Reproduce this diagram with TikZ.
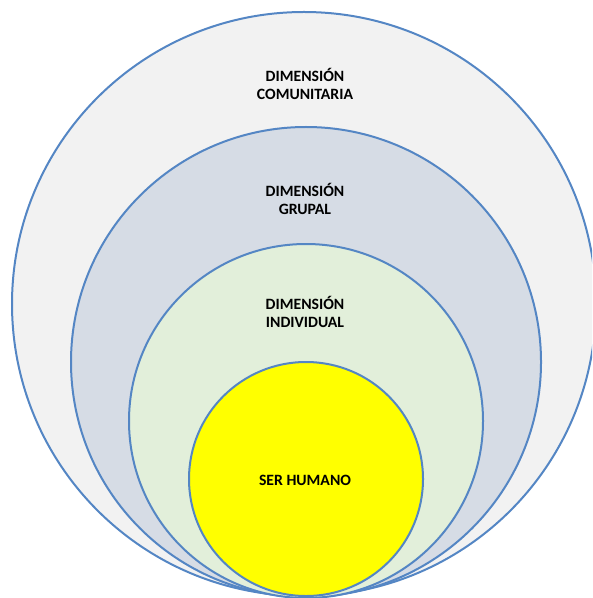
\documentclass[tikz,border=0pt]{standalone}
\usepackage{fontspec}
\setmainfont{Carlito}
\definecolor{ringline}{RGB}{84,134,196}
\definecolor{ringgray}{RGB}{242,242,242}
\definecolor{ringblue}{RGB}{214,220,229}
\definecolor{ringgreen}{RGB}{226,239,218}
\definecolor{ringyellow}{RGB}{255,255,0}
\begin{document}
\begin{tikzpicture}[x=0.75pt, y=-0.75pt,
        ring/.style={circle, draw=ringline, line width=1.5pt, inner sep=0pt},
        label/.style={align=center, font=\fontsize{11.8}{13.5}\selectfont\bfseries, text=black}]
    \useasboundingbox (0,0) rectangle (592,598);
    \clip (0,0) rectangle (592,598);

    % rings, outer to inner
    \node[ring, fill=ringgray, minimum size=438pt] (comunitaria) at (304,304) {};
    \node[ring, fill=ringblue, minimum size=352.5pt] (grupal) at (306,362) {};
    \node[ring, fill=ringgreen, minimum size=265.5pt] (individual) at (306,421) {};
    \node[ring, fill=ringyellow, minimum size=175.5pt] (humano) at (306,479) {};

    % texts
    \node[label] (t-comunitaria) at (305,84) {DIMENSIÓN\\COMUNITARIA};
    \node[label] (t-grupal) at (305,199) {DIMENSIÓN\\GRUPAL};
    \node[label] (t-individual) at (305,312) {DIMENSIÓN\\INDIVIDUAL};
    \node[label] (t-humano) at (305,480) {SER HUMANO};
\end{tikzpicture}
\end{document}
